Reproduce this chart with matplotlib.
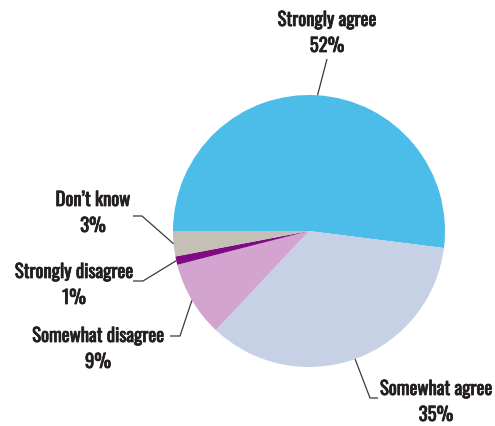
import numpy as np
import matplotlib.pyplot as plt
import matplotlib.patheffects as pe

labels = ['Strongly agree', 'Somewhat agree', 'Somewhat disagree', 'Strongly disagree', "Don\u2019t know"]
values = [52, 35, 9, 1, 3]
colors = ['#4bbde8', '#c6d1e6', '#d3a4cf', '#7e0a84', '#c4c0b6']

# label centre x and first baseline, leader elbows and tails, all in pixels from the top
text_xy = [(327, 27), (436, 396), (98, 343), (74, 279), (93, 207)]
elbow = [(327, 60), (370, 399), (180, 337), (143, 282), (142, 217)]
tail = [None, (378, 399), (170, 337), (133, 282), (133, 217)]
pitch = 26

W, H = 495, 427
fig = plt.figure(figsize=(W / 100, H / 100), dpi=100)
ax = fig.add_axes([0, 0, 1, 1])

cx, cy, r = 309, H - 232, 136
wedges, _ = ax.pie(values, colors=colors, startangle=180, counterclock=False,
                   center=(cx, cy), radius=r, frame=True,
                   wedgeprops=dict(linewidth=0))
ax.set_xlim(0, W)
ax.set_ylim(0, H)
ax.set_aspect('equal')
ax.axis('off')

# Oswald only ships a regular face here, so thicken it a little with a stroke
bold = [pe.withStroke(linewidth=0.55, foreground='#231f20')]
font = dict(family=['Oswald', 'DejaVu Sans'], fontsize=13.5, color='#231f20',
            ha='center', va='baseline', path_effects=bold)

for w, lab, val, (tx, ty), el, tl in zip(wedges, labels, values, text_xy, elbow, tail):
    mid = np.deg2rad((w.theta1 + w.theta2) / 2)
    px, py = cx + r * np.cos(mid), cy + r * np.sin(mid)
    xs = [px, el[0]]
    ys = [py, H - el[1]]
    if tl is not None:
        xs.append(tl[0])
        ys.append(H - tl[1])
    ax.plot(xs, ys, color='#3a3a3a', lw=0.9, solid_capstyle='butt')
    ax.text(tx, H - ty, lab, **font)
    ax.text(tx, H - ty - pitch, f'{val}%', **font)

fig.savefig('out.png', dpi=100)
